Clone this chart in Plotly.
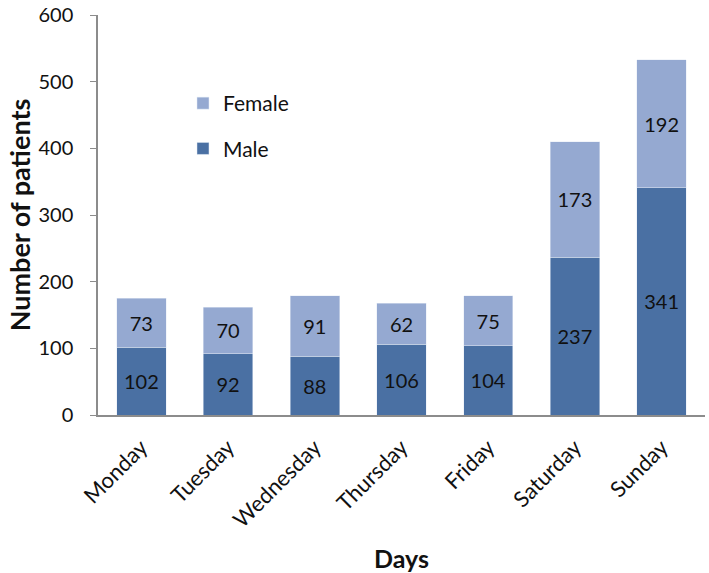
import plotly.graph_objects as go

days = ["Monday", "Tuesday", "Wednesday", "Thursday", "Friday", "Saturday", "Sunday"]
male = [102, 92, 88, 106, 104, 237, 341]
female = [73, 70, 91, 62, 75, 173, 192]
y_ticks = [0, 100, 200, 300, 400, 500, 600]

FONT = "Lato"
fig = go.Figure()
fig.add_trace(go.Bar(
    x=days, y=male, name="Male", marker_color="#4A70A3", legendgroup="m", legendrank=2,
    text=male, textposition="inside", insidetextanchor="middle",
    textfont=dict(color="#111", size=20, family=FONT),
))
fig.add_trace(go.Bar(
    x=days, y=female, name="Female", marker_color="#95A9D1", legendgroup="f", legendrank=1,
    text=female, textposition="inside", insidetextanchor="middle",
    textfont=dict(color="#111", size=20, family=FONT),
))
fig.update_layout(
    barmode="stack", bargap=0.43,
    width=709, height=573,
    margin=dict(l=98, r=4, t=15, b=158),
    plot_bgcolor="white", paper_bgcolor="white",
    font=dict(family=FONT, size=20, color="#111"),
    showlegend=True,
    legend=dict(x=0.14, y=0.83, xanchor="left", yanchor="top",
                traceorder="grouped", tracegroupgap=15,
                font=dict(size=21, family=FONT), bgcolor="rgba(0,0,0,0)"),
    uniformtext=dict(minsize=20, mode="show"),
)
fig.update_yaxes(range=[0, 600], tickvals=y_ticks, showgrid=False, automargin=False,
                 showline=True, linecolor="#8c8c8c", linewidth=1.5,
                 ticks="outside", ticklen=6, tickcolor="#8c8c8c", ticklabelstandoff=13,
                 tickfont=dict(size=20, family=FONT),
                 title=dict(text="<b>Number of patients</b>", font=dict(size=27, family=FONT), standoff=0))
fig.update_xaxes(showgrid=False, showline=True, linecolor="#8c8c8c", linewidth=1.5, automargin=False,
                 ticks="", tickangle=-45, tickfont=dict(size=22, family=FONT), ticklabelstandoff=9,
                 title=dict(text="<b>Days</b>", font=dict(size=25, family=FONT), standoff=20))
fig.write_html("out.html", config={"displayModeBar": False},
               post_script="document.body.style.margin='0';")
